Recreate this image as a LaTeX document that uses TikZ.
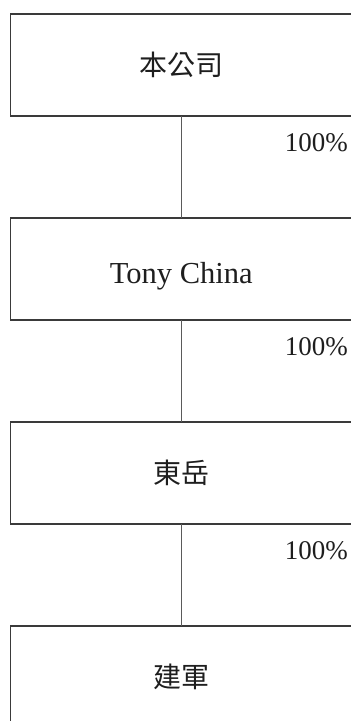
\documentclass[tikz,border=0pt]{standalone}
\usepackage{fontspec}
\setmainfont{Liberation Serif}
\newfontfamily\cjk{Noto Sans CJK TC}
\definecolor{boxline}{HTML}{3A3A3A}
\definecolor{connline}{HTML}{5A5A5A}
\definecolor{txt}{HTML}{1E1E1E}
\begin{document}
\begin{tikzpicture}[x=1pt,y=-1pt,
  orgbox/.style={draw=boxline,line width=1.3pt,fill=white,inner sep=0pt,outer sep=0pt,
    minimum width=341.5pt,minimum height=102pt,text=txt,font=\fontsize{28}{30}\selectfont},
  conn/.style={draw=connline,line width=1.5pt},
  pct/.style={anchor=base east,inner sep=0pt,text=txt,font=\fontsize{27}{30}\selectfont}]
\useasboundingbox (0,0) rectangle (351,721);
\node[orgbox] (b1) at (181.25,65) {\cjk 本公司};
\node[orgbox,font=\fontsize{30.5}{32}\selectfont,text height=28pt,text depth=0pt] (b2) at (181.25,269) {Tony China};
\node[orgbox] (b3) at (181.25,473) {\cjk 東岳};
\node[orgbox] (b4) at (181.25,677) {\cjk 建軍};
\draw[conn] (b1.south) -- (b2.north);
\draw[conn] (b2.south) -- (b3.north);
\draw[conn] (b3.south) -- (b4.north);
\node[pct] (p1) at (348,151) {100\%};
\node[pct] (p2) at (348,355) {100\%};
\node[pct] (p3) at (348,559) {100\%};
\end{tikzpicture}
\end{document}
